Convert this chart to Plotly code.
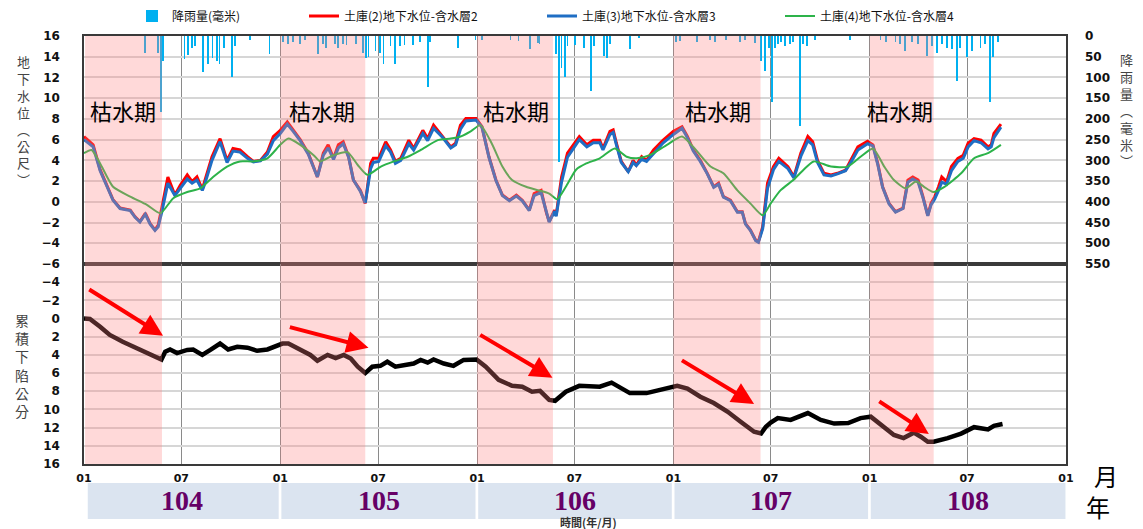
import plotly.graph_objects as go

# ---------------- data ----------------
gw_dates = [
    "2015-01-01","2015-01-18","2015-01-31","2015-02-13","2015-02-24","2015-03-09","2015-03-28","2015-04-06",
    "2015-04-15","2015-04-25","2015-05-04","2015-05-13","2015-05-19","2015-05-26","2015-06-06","2015-06-19",
    "2015-06-29","2015-07-12","2015-07-21","2015-07-30","2015-08-09","2015-08-14","2015-08-27","2015-09-11",
    "2015-09-24","2015-10-05","2015-10-18","2015-11-01","2015-11-12","2015-11-25","2015-12-08","2015-12-19",
    "2016-01-01","2016-01-14","2016-01-25","2016-02-07","2016-02-22","2016-03-10","2016-03-21","2016-03-30",
    "2016-04-09","2016-04-18","2016-04-27","2016-05-07","2016-05-16","2016-05-29","2016-06-07","2016-06-17",
    "2016-06-22","2016-07-02","2016-07-15","2016-07-24","2016-08-02","2016-08-12","2016-08-27","2016-09-05",
    "2016-09-22","2016-10-01","2016-10-12","2016-10-29","2016-11-13","2016-11-22","2016-12-01","2016-12-11",
    "2016-12-30","2017-01-10","2017-01-23","2017-02-05","2017-02-17","2017-03-02","2017-03-15","2017-03-26",
    "2017-04-08","2017-04-17","2017-04-30","2017-05-10","2017-05-15","2017-05-25","2017-05-28","2017-06-07",
    "2017-06-18","2017-07-01","2017-07-10","2017-07-24","2017-08-05","2017-08-17","2017-08-23","2017-09-05",
    "2017-09-11","2017-09-17","2017-09-26","2017-10-09","2017-10-18","2017-10-24","2017-11-03","2017-11-12",
    "2017-11-25","2017-12-13","2018-01-01","2018-01-17","2018-01-27","2018-02-07","2018-02-20","2018-03-05",
    "2018-03-17","2018-03-26","2018-04-04","2018-04-17","2018-04-30","2018-05-09","2018-05-15","2018-05-24",
    "2018-06-03","2018-06-08","2018-06-16","2018-06-25","2018-07-06","2018-07-16","2018-08-02","2018-08-13",
    "2018-08-26","2018-09-08","2018-09-17","2018-09-26","2018-10-08","2018-10-21","2018-11-02","2018-11-17",
    "2018-11-27","2018-12-10","2018-12-28","2019-01-07","2019-01-16","2019-01-25","2019-02-06","2019-02-18",
    "2019-03-04","2019-03-13","2019-03-22","2019-04-01","2019-04-10","2019-04-19","2019-04-25","2019-05-02",
    "2019-05-09","2019-05-15","2019-05-24","2019-06-02","2019-06-14","2019-06-24","2019-07-03","2019-07-14",
    "2019-07-27","2019-08-09","2019-08-15","2019-08-20","2019-09-02",
]
gw_layer2 = [
    6.3, 5.5, 3.1, 1.45, 0.2, -0.6, -0.8, -1.45,
    -1.9, -1.1, -2.1, -2.7, -2.25, -0.5, 2.4, 0.65,
    1.6, 2.6, 1.95, 2.4, 1.2, 2.1, 4.35, 6.1,
    4.0, 5.15, 5.0, 4.35, 3.9, 4.0, 4.8, 6.3,
    6.9, 7.7, 6.9, 6.0, 4.7, 2.4, 4.7, 5.5,
    4.2, 5.5, 5.8, 4.35, 2.1, 1.1, -0.15, 3.7,
    4.2, 4.2, 5.8, 5.0, 3.9, 4.2, 5.95, 5.15,
    6.9, 6.1, 7.4, 6.3, 5.3, 5.65, 7.4, 8.05,
    8.05, 7.25, 4.35, 2.1, 0.65, 0.15, 0.65, 0.15,
    -0.8, 0.8, 1.1, -1.1, -1.9, -0.8, -1.3, 2.4,
    4.7, 5.65, 6.3, 5.5, 5.95, 5.95, 5.15, 6.8,
    6.95, 5.65, 3.9, 2.9, 4.0, 3.55, 4.35, 4.0,
    5.0, 5.95, 6.8, 7.25, 6.3, 5.0, 4.0, 2.75,
    1.45, 1.8, 0.5, 0.15, -0.95, -0.95, -2.1, -2.7,
    -3.7, -3.85, -2.4, 1.8, 3.4, 4.2, 3.4, 2.4,
    4.7, 6.3, 5.8, 4.0, 2.75, 2.6, 2.75, 3.05,
    4.0, 5.3, 5.85, 5.5, 3.7, 1.45, -0.15, -0.95,
    -0.6, 2.1, 2.4, 2.1, 0.5, -1.3, -0.15, 0.5,
    1.45, 2.4, 1.95, 3.4, 4.2, 4.5, 5.65, 6.1,
    5.95, 5.3, 5.5, 6.6, 7.5,
]
gw_layer3 = [
    6.0, 5.3, 3.0, 1.4, 0.15, -0.65, -0.85, -1.5,
    -1.95, -1.2, -2.15, -2.75, -2.4, -0.9, 1.8, 0.6,
    1.3, 2.2, 1.8, 2.1, 1.1, 1.8, 4.0, 5.8,
    3.8, 4.9, 4.8, 4.2, 3.85, 3.95, 4.6, 5.9,
    6.6, 7.5, 6.8, 5.9, 4.6, 2.4, 4.5, 5.2,
    4.1, 5.2, 5.6, 4.3, 2.1, 1.0, -0.1, 3.2,
    3.8, 3.9, 5.4, 4.8, 3.7, 4.0, 5.6, 5.0,
    6.6, 5.9, 7.1, 6.2, 5.2, 5.5, 7.0, 7.8,
    7.9, 7.2, 4.3, 2.05, 0.6, 0.1, 0.55, 0.1,
    -0.85, 0.6, 0.9, -1.15, -1.95, -0.9, -1.4, 1.9,
    4.3, 5.3, 6.0, 5.3, 5.7, 5.7, 5.0, 6.5,
    6.7, 5.5, 3.8, 2.9, 3.8, 3.5, 4.1, 3.9,
    4.7, 5.7, 6.5, 7.1, 6.2, 4.9, 3.9, 2.7,
    1.4, 1.7, 0.45, 0.1, -1.0, -1.0, -2.15, -2.75,
    -3.75, -3.9, -2.6, 1.3, 3.1, 3.9, 3.2, 2.3,
    4.4, 5.9, 5.5, 3.8, 2.6, 2.5, 2.7, 3.0,
    3.8, 5.0, 5.6, 5.4, 3.6, 1.4, -0.2, -1.0,
    -0.65, 1.9, 2.2, 1.9, 0.4, -1.35, -0.3, 0.3,
    1.1, 1.9, 1.7, 3.0, 3.9, 4.2, 5.3, 5.9,
    5.7, 5.1, 5.3, 6.2, 7.2,
]
gw4_dates = [
    "2015-01-01","2015-01-15","2015-01-31","2015-02-24","2015-03-28","2015-04-28","2015-05-23","2015-06-16",
    "2015-07-12","2015-08-05","2015-08-29","2015-09-24","2015-10-18","2015-11-12","2015-12-08",
    "2016-01-01","2016-01-16","2016-02-07","2016-03-03","2016-03-15","2016-04-09","2016-05-05","2016-05-24",
    "2016-06-11","2016-07-06","2016-07-30","2016-08-25","2016-09-18","2016-10-20","2016-11-13","2016-12-01",
    "2016-12-20","2017-01-07","2017-01-28","2017-02-17","2017-03-07","2017-04-02","2017-04-26","2017-05-15",
    "2017-05-30","2017-06-15","2017-07-04","2017-07-23","2017-08-17","2017-09-14","2017-10-06","2017-10-25",
    "2017-11-18","2017-12-20","2018-01-17","2018-02-07","2018-03-11","2018-04-04","2018-04-30","2018-05-24",
    "2018-06-16","2018-07-01","2018-07-19","2018-08-13","2018-08-31","2018-09-19","2018-10-21","2018-11-21",
    "2018-12-15","2019-01-07","2019-01-28","2019-02-15","2019-03-09","2019-03-28","2019-04-12","2019-04-29",
    "2019-05-20","2019-06-20","2019-07-14","2019-08-09","2019-09-02",
]
gw_layer4 = [
    4.7, 5.0, 3.7, 1.45, 0.5, -0.3, -1.1, 0.35,
    0.95, 1.3, 2.4, 3.4, 3.9, 3.9, 4.2,
    5.5, 6.1, 5.5, 4.5, 3.9, 4.5, 4.8, 3.55,
    2.6, 3.4, 3.9, 4.35, 5.0, 5.95, 6.1, 6.3,
    6.8, 7.4, 5.65, 3.4, 2.1, 1.45, 1.1, 0.8,
    0.25, 1.45, 3.1, 3.7, 4.2, 5.15, 4.35, 4.2,
    4.5, 5.5, 6.3, 5.3, 3.4, 2.75, 1.1, -0.15,
    -1.3, -0.15, 1.1, 2.15, 3.1, 3.9, 3.4, 3.4,
    4.35, 5.15, 3.4, 2.1, 1.3, 1.95, 1.45, 0.95,
    1.45, 2.75, 4.2, 4.7, 5.5,
]
rain_dates = [
    "2015-04-24","2015-05-18","2015-05-24","2015-05-28","2015-07-07","2015-07-13","2015-07-21","2015-07-26",
    "2015-08-10","2015-08-19","2015-08-28","2015-09-05","2015-09-10","2015-09-18","2015-10-03","2015-10-08",
    "2015-11-05","2015-12-12",
    "2016-01-06","2016-01-16","2016-01-25","2016-02-07","2016-02-16","2016-03-11","2016-03-21","2016-03-26",
    "2016-04-12","2016-04-18","2016-04-27","2016-05-03","2016-05-21","2016-06-03","2016-06-09","2016-06-13",
    "2016-06-26","2016-07-05","2016-07-11","2016-07-24","2016-08-02","2016-08-11","2016-08-19","2016-09-03",
    "2016-09-16","2016-10-01","2016-10-06","2016-11-27","2016-12-29",
    "2017-01-10","2017-03-04","2017-03-19","2017-04-09","2017-04-24","2017-04-27","2017-05-27","2017-06-02",
    "2017-06-07","2017-06-13","2017-06-18","2017-07-02","2017-07-18","2017-08-01","2017-08-06","2017-08-25",
    "2017-08-30","2017-09-05","2017-10-12","2017-10-29",
    "2018-01-06","2018-01-14","2018-02-14","2018-03-10","2018-03-19","2018-04-09","2018-05-05","2018-05-14",
    "2018-06-02","2018-06-13","2018-06-20","2018-06-28","2018-07-03","2018-07-09","2018-07-15","2018-07-20",
    "2018-07-28","2018-08-06","2018-08-12","2018-08-25","2018-08-30","2018-09-07","2018-09-22","2018-11-26",
    "2019-01-21","2019-02-01","2019-02-18","2019-02-27","2019-03-08","2019-03-21","2019-04-01","2019-04-18",
    "2019-04-27","2019-05-06","2019-05-16","2019-05-25","2019-06-03","2019-06-13","2019-06-18","2019-07-01",
    "2019-07-11","2019-07-26","2019-08-04","2019-08-13","2019-08-19","2019-08-28",
]
rain_mm = [
    40, 40, 184, 60, 55, 45, 30, 25,
    88, 67, 52, 60, 67, 30, 100, 25,
    10, 43,
    15, 20, 15, 20, 10, 43, 20, 30,
    20, 30, 20, 22, 20, 40, 52, 50,
    36, 40, 68, 25, 68, 25, 22, 22,
    15, 124, 15, 28, 10,
    10, 10, 12, 32, 18, 20, 44, 304,
    76, 100, 25, 22, 28, 132, 25, 48,
    52, 20, 32, 5,
    15, 12, 15, 10, 15, 10, 15, 10,
    18, 60, 84, 30, 160, 30, 20, 15,
    25, 20, 15, 216, 20, 25, 10, 10,
    10, 15, 15, 20, 36, 15, 20, 48,
    25, 40, 20, 30, 32, 108, 30, 50,
    35, 28, 20, 160, 50, 15,
]
sub_dates = [
    "2015-01-01","2015-01-12","2015-01-31","2015-02-18","2015-03-14","2015-04-02","2015-04-28","2015-05-13",
    "2015-05-25","2015-06-01","2015-06-10","2015-06-23","2015-07-12","2015-07-23","2015-08-09","2015-08-24",
    "2015-09-11","2015-09-26","2015-10-13","2015-11-01","2015-11-19","2015-12-08","2015-12-27",
    "2016-01-05","2016-01-16","2016-02-07","2016-02-26","2016-03-10","2016-03-29","2016-04-13","2016-04-28",
    "2016-05-11","2016-05-24","2016-06-07","2016-06-20","2016-07-05","2016-07-18","2016-08-02","2016-08-25",
    "2016-09-05","2016-09-18","2016-10-01","2016-10-12","2016-10-31","2016-11-18","2016-12-07","2016-12-31",
    "2017-01-17","2017-02-10","2017-03-07","2017-03-26","2017-04-13","2017-04-28","2017-05-15","2017-05-26",
    "2017-06-15","2017-07-10","2017-07-28","2017-08-17","2017-09-08","2017-10-12","2017-11-12","2017-12-13",
    "2018-01-08","2018-01-27","2018-02-20","2018-03-17","2018-04-12","2018-05-06","2018-05-31","2018-06-13",
    "2018-06-22","2018-07-01","2018-07-14","2018-08-07","2018-09-08","2018-10-02","2018-10-27","2018-11-22",
    "2018-12-15","2019-01-03","2019-01-21","2019-02-15","2019-03-05","2019-03-24","2019-04-06","2019-04-19",
    "2019-04-30","2019-05-14","2019-05-26","2019-06-20","2019-07-14","2019-08-09","2019-08-20","2019-09-05",
]
subsidence_cm = [
    0.0, 0.05, 0.9, 1.8, 2.55, 3.1, 3.8, 4.2,
    4.5, 3.65, 3.4, 3.8, 3.45, 3.4, 4.0, 3.45,
    2.75, 3.4, 3.1, 3.2, 3.55, 3.4, 2.9,
    2.75, 2.75, 3.45, 4.0, 4.65, 4.0, 4.35, 4.0,
    4.4, 5.3, 6.0, 5.3, 5.2, 4.75, 5.3, 5.0,
    4.95, 4.55, 4.85, 4.5, 4.95, 5.2, 4.55, 4.5,
    5.3, 6.75, 7.4, 7.5, 8.05, 7.95, 8.95, 9.05,
    8.05, 7.4, 7.4, 7.5, 7.05, 8.2, 8.2, 7.7,
    7.4, 7.7, 8.6, 9.3, 10.25, 11.35, 12.45, 12.65,
    11.9, 11.45, 10.95, 11.15, 10.4, 11.15, 11.55, 11.5,
    10.95, 10.8, 11.7, 12.8, 13.15, 12.55, 13.0, 13.55,
    13.55, 13.35, 13.15, 12.65, 11.95, 12.2, 11.8, 11.6,
]
dry_start = ["2015-01-03", "2016-01-01", "2017-01-01", "2018-01-01", "2019-01-01"]
dry_end = ["2015-05-26", "2016-06-07", "2017-05-22", "2018-06-12", "2019-04-30"]
dry_label_dates = ["2015-03-14", "2016-03-19", "2017-03-14", "2018-03-25", "2019-02-27"]
dry_label = "枯水期"
arrow_tail_dates = ["2015-01-08", "2016-01-16", "2017-01-04", "2018-01-14", "2019-01-16"]
arrow_tail_cm = [-3.3, 0.9, 1.7, 4.5, 9.0]
arrow_head_dates = ["2015-05-28", "2016-06-13", "2017-05-21", "2018-05-31", "2019-04-21"]
arrow_head_cm = [1.9, 3.2, 6.5, 9.4, 12.7]
year_labels = ["104", "105", "106", "107", "108"]
year_box_start = ["2015-01-08", "2016-01-03", "2017-01-03", "2018-01-03", "2019-01-03"]
year_box_end = ["2015-12-29", "2016-12-29", "2017-12-29", "2018-12-29", "2019-12-31"]
year_mid = ["2015-07-02", "2016-07-02", "2017-07-02", "2018-07-02", "2019-07-02"]
month_tickvals = ["2015-01-01", "2015-07-01", "2016-01-01", "2016-07-01", "2017-01-01", "2017-07-01",
                  "2018-01-01", "2018-07-01", "2019-01-01", "2019-07-01", "2020-01-01"]
month_ticktext = ["01", "07", "01", "07", "01", "07", "01", "07", "01", "07", "01"]
gw_ticks = [-6, -4, -2, 0, 2, 4, 6, 8, 10, 12, 14, 16]
rain_ticks = [0, 50, 100, 150, 200, 250, 300, 350, 400, 450, 500, 550]
sub_ticks = [-4, -2, 0, 2, 4, 6, 8, 10, 12, 14, 16]
name_rain = "降雨量(毫米)"
name_l2 = "土庫(2)地下水位-含水層2"
name_l3 = "土庫(3)地下水位-含水層3"
name_l4 = "土庫(4)地下水位-含水層4"
title_gw = ["地", "下", "水", "位", "︵", "公", "尺", "︶"]
title_rain = ["降", "雨", "量", "︵", "毫", "米", "︶"]
title_sub = ["累", "積", "下", "陷", "公", "分"]

# ---------------- layout geometry ----------------
W, H = 1143, 529
L, R, T, B = 84, 1066, 36, 464
SPLIT = 264


def px_x(x):
    return (x - L) / (R - L)


def px_y(y):
    return (B - y) / (B - T)


split_frac = px_y(SPLIT)
CJK = "Noto Sans CJK TC, Noto Sans CJK SC, sans-serif"
TICKFONT = dict(family="DejaVu Sans", size=12, color="#111", weight="bold")

fig = go.Figure()

fig.add_trace(go.Bar(
    x=rain_dates, y=rain_mm, name=name_rain, yaxis="y2", xaxis="x",
    marker=dict(color="#00b0f0", line=dict(width=0)), width=1.6 * 86400000,
    legend="legend",
))
fig.add_trace(go.Scatter(
    x=gw_dates, y=gw_layer2, name=name_l2, mode="lines", xaxis="x", yaxis="y",
    line=dict(color="#ff0000", width=3), legend="legend2",
))
fig.add_trace(go.Scatter(
    x=gw_dates, y=gw_layer3, name=name_l3, mode="lines", xaxis="x", yaxis="y",
    line=dict(color="#1f6ec4", width=3), legend="legend3",
))
fig.add_trace(go.Scatter(
    x=gw4_dates, y=gw_layer4, name=name_l4, mode="lines", xaxis="x", yaxis="y",
    line=dict(color="#2db34a", width=2, shape="spline", smoothing=0.6), legend="legend4",
))
fig.add_trace(go.Scatter(
    x=sub_dates, y=subsidence_cm, name="累積下陷", mode="lines", xaxis="x2", yaxis="y3",
    line=dict(color="#000000", width=4.5), showlegend=False,
))

xcommon = dict(
    type="date", range=["2015-01-01", "2020-01-01"],
    tickmode="array", tickvals=month_tickvals, ticktext=month_ticktext,
    showgrid=True, gridcolor="#8a8a8a", gridwidth=1,
    showline=True, linecolor="#3a3a3a", linewidth=1.5, mirror=True,
    zeroline=False, ticks="", automargin=False,
)

shapes = []
for s, e in zip(dry_start, dry_end):
    shapes.append(dict(
        type="rect", xref="x", yref="paper", x0=s, x1=e, y0=0, y1=1,
        fillcolor="rgba(255,130,130,0.30)", line=dict(width=0), layer="above",
    ))
yb0, yb1 = px_y(519), px_y(483)
for s, e in zip(year_box_start, year_box_end):
    shapes.append(dict(
        type="rect", xref="x", yref="paper", x0=s, x1=e, y0=yb0, y1=yb1,
        fillcolor="#dbe4f0", line=dict(width=0), layer="below",
    ))

annotations = []
for d in dry_label_dates:
    annotations.append(dict(
        x=d, y=8.9, xref="x", yref="y", text=dry_label, showarrow=False,
        xanchor="center", yanchor="middle",
        font=dict(family=CJK, size=22, color="#000"),
    ))
for ht, hv, tt, tv in zip(arrow_head_dates, arrow_head_cm, arrow_tail_dates, arrow_tail_cm):
    annotations.append(dict(
        x=ht, y=hv, ax=tt, ay=tv, xref="x2", yref="y3", axref="x2", ayref="y3",
        text="", showarrow=True, arrowhead=2, arrowsize=1.1, arrowwidth=4, arrowcolor="#ff0000",
    ))
for lbl, d in zip(year_labels, year_mid):
    annotations.append(dict(
        x=d, y=px_y(500), xref="x", yref="paper", text=lbl, showarrow=False,
        xanchor="center", yanchor="middle",
        font=dict(family="Liberation Serif", size=28, color="#660066", weight="bold"),
        height=22, valign="middle",
    ))


def paper_text(text, xpix, ypix, size, color, weight="normal", family=CJK):
    annotations.append(dict(
        x=px_x(xpix), y=px_y(ypix), xref="paper", yref="paper", text=text,
        showarrow=False, xanchor="center", yanchor="middle",
        font=dict(family=family, size=size, color=color, weight=weight),
    ))


paper_text("<br>".join(title_gw), 23, 120, 13, "#444")
paper_text("<br>".join(title_rain), 1126, 110, 13, "#444")
paper_text("<br>".join(title_sub), 22, 365, 14, "#444")

paper_text("月", 1106, 475, 24, "#000")
paper_text("年", 1098, 506, 24, "#000")
paper_text("時間(年/月)", 588, 521.5, 11, "#333", weight="bold")

legend_common = dict(orientation="h", yanchor="middle", yref="container", y=1 - 16 / H,
                     xref="container", xanchor="left",
                     font=dict(family=CJK, size=12, color="#111"), bgcolor="rgba(0,0,0,0)",
                     itemwidth=30, tracegroupgap=0)

fig.update_layout(
    width=W, height=H,
    margin=dict(l=L, r=W - R, t=T, b=H - B, autoexpand=False),
    paper_bgcolor="white", plot_bgcolor="white",
    bargap=0, barmode="overlay",
    xaxis=dict(xcommon, anchor="y", domain=[0, 1], showticklabels=False),
    xaxis2=dict(xcommon, anchor="y3", domain=[0, 1], matches="x", showticklabels=True,
                tickfont=dict(family="DejaVu Sans", size=11, color="#111", weight="bold"),
                ticklabelstandoff=3),
    yaxis=dict(domain=[split_frac, 1], range=[-6, 16], tickmode="array", tickvals=gw_ticks,
               showgrid=True, gridcolor="#d6d6d6", gridwidth=1.5, zeroline=False,
               showline=True, linecolor="#3a3a3a", linewidth=1.5, mirror=True,
               tickfont=TICKFONT, ticks="", ticklabelstandoff=20, anchor="x", automargin=False),
    yaxis2=dict(overlaying="y", side="right", range=[550, 0], tickmode="array", tickvals=rain_ticks,
                showgrid=False, zeroline=False, tickfont=TICKFONT, ticks="",
                ticklabelstandoff=18, anchor="x", automargin=False),
    yaxis3=dict(domain=[0, split_frac], range=[16, -6], tickmode="array", tickvals=sub_ticks,
                showgrid=True, gridcolor="#d6d6d6", gridwidth=1.5, zeroline=False,
                showline=True, linecolor="#3a3a3a", linewidth=1.5, mirror=True,
                tickfont=TICKFONT, ticks="", ticklabelstandoff=20, anchor="x2", automargin=False),
    shapes=shapes,
    annotations=annotations,
    legend=dict(legend_common, x=132 / W),
    legend2=dict(legend_common, x=304 / W),
    legend3=dict(legend_common, x=542 / W),
    legend4=dict(legend_common, x=780 / W),
)

fig.write_html(
    "out.html",
    config={"displayModeBar": False},
    post_script="document.body.style.margin='0px';document.body.style.overflow='hidden';",
)
